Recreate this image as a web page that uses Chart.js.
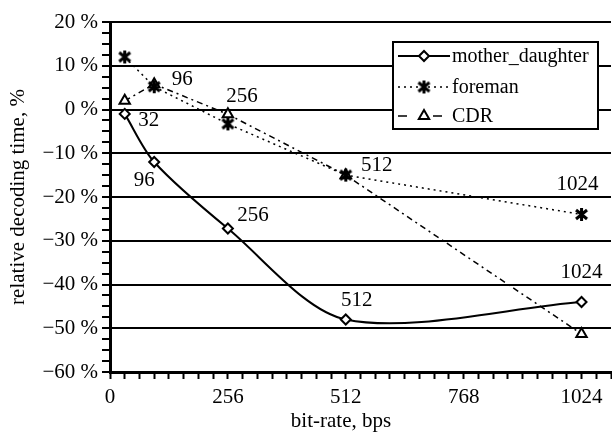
<!DOCTYPE html>
<html>
<head>
<meta charset="utf-8">
<script src="https://cdn.jsdelivr.net/npm/chart.js@4.4.0/dist/chart.umd.min.js"></script>
<style>
  html, body { margin: 0; padding: 0; background: #fff; }
  #wrap { width: 612px; height: 435px; }
</style>
</head>
<body>
<div id="wrap"><canvas id="graphique"></canvas></div>
<script>
// valeurs
const bitRates = [32, 96, 256, 512, 1024]
const motherDaughter = [-1, -12, -27.2, -48, -44]
const foreman = [12, 5.2, -3.3, -15, -24]
const cdr = [2, 5.8, -1.1, -15, -51.3]
const seriesNames = ["mother_daughter", "foreman", "CDR"]
const xTickLabels = [0, 256, 512, 768, 1024]
const yTickLabels = [20, 10, 0, -10, -20, -30, -40, -50, -60]

const police = "'Liberation Serif', 'Times New Roman', serif"

function points(values) {
    return bitRates.map((b, i) => ({ x: b, y: values[i] }))
}

function formatPct(v) {
    return (v < 0 ? "\u2212" + Math.abs(v) : v) + " %"
}

// marqueur étoile (X + trait vertical)
function creerEtoile() {
    const c = document.createElement("canvas")
    c.width = 15
    c.height = 15
    const g = c.getContext("2d")
    g.strokeStyle = "#000"
    g.lineWidth = 3
    g.beginPath()
    g.moveTo(7.5, 1); g.lineTo(7.5, 14)
    g.moveTo(2, 3); g.lineTo(13, 12)
    g.moveTo(13, 3); g.lineTo(2, 12)
    g.stroke()
    return c
}
const etoile = creerEtoile()

// étiquettes des points (série, index, décalage en px)
const etiquettes = [
    { serie: 0, i: 0, dx: 24, dy: 7 },
    { serie: 0, i: 1, dx: -10, dy: 18 },
    { serie: 0, i: 2, dx: 25, dy: -13 },
    { serie: 0, i: 3, dx: 11, dy: -19 },
    { serie: 0, i: 4, dx: 0, dy: -30 },
    { serie: 1, i: 1, dx: 28, dy: -7 },
    { serie: 2, i: 2, dx: 14, dy: -18 },
    { serie: 1, i: 3, dx: 31, dy: -10 },
    { serie: 1, i: 4, dx: -4, dy: -30 },
]

const pluginTextes = {
    id: "textes",
    afterDatasetsDraw(chart) {
        const ctx = chart.ctx
        const xs = chart.scales.x
        const ys = chart.scales.y
        const series = [motherDaughter, foreman, cdr]
        ctx.save()
        ctx.fillStyle = "#000"
        ctx.font = "21px " + police
        ctx.textAlign = "center"
        ctx.textBaseline = "middle"
        for (const e of etiquettes) {
            const px = xs.getPixelForValue(bitRates[e.i])
            const py = ys.getPixelForValue(series[e.serie][e.i])
            ctx.fillText(String(bitRates[e.i]), px + e.dx, py + e.dy)
        }

        // titres des axes
        ctx.fillText("bit-rate, bps", 341, 421)
        ctx.translate(18, (chart.chartArea.top + chart.chartArea.bottom) / 2)
        ctx.rotate(-Math.PI / 2)
        ctx.fillText("relative decoding time, %", 0, 0)
        ctx.restore()

        // légende
        ctx.save()
        ctx.fillStyle = "#fff"
        ctx.fillRect(393, 42, 205, 87)
        ctx.strokeStyle = "#000"
        ctx.lineWidth = 2
        ctx.strokeRect(393, 42, 205, 87)
        const lignes = [56, 87, 116]
        const ds = chart.data.datasets
        for (let k = 0; k < 3; k++) {
            const y = lignes[k]
            ctx.strokeStyle = "#000"
            ctx.lineWidth = ds[k].borderWidth
            ctx.setLineDash(k === 0 ? [] : [2, 4])
            ctx.beginPath()
            if (k === 2) {
                ctx.setLineDash([])
                ctx.moveTo(398, y); ctx.lineTo(407, y)
                ctx.moveTo(433, y); ctx.lineTo(442, y)
            } else {
                ctx.moveTo(398, y); ctx.lineTo(450, y)
            }
            ctx.stroke()
            ctx.setLineDash([])
            ctx.fillStyle = "#fff"
            ctx.lineWidth = ds[k].pointBorderWidth
            Chart.helpers.drawPoint(ctx, {
                pointStyle: ds[k].pointStyle,
                radius: ds[k].pointRadius,
                borderWidth: ds[k].pointBorderWidth,
                rotation: 0
            }, 424, y)
            ctx.fillStyle = "#000"
            ctx.font = "20px " + police
            ctx.textAlign = "left"
            ctx.textBaseline = "middle"
            ctx.fillText(seriesNames[k], 452, y + 1)
        }
        ctx.restore()
    }
}

const config = {
    type: "line",
    data: {
        datasets: [
            {
                label: seriesNames[0],
                data: points(motherDaughter),
                borderColor: "#000",
                borderWidth: 2,
                tension: 0.3,
                pointStyle: "rectRot",
                pointRadius: 5,
                pointBorderWidth: 2,
                pointBackgroundColor: "#fff",
                pointBorderColor: "#000",
            },
            {
                label: seriesNames[1],
                data: points(foreman),
                borderColor: "#000",
                borderWidth: 1.5,
                borderDash: [2, 4],
                tension: 0,
                pointStyle: etoile,
                pointRadius: 6,
                pointBorderWidth: 2,
                pointBackgroundColor: "#fff",
                pointBorderColor: "#000",
            },
            {
                label: seriesNames[2],
                data: points(cdr),
                borderColor: "#000",
                borderWidth: 1.5,
                borderDash: [6, 4, 2, 4],
                tension: 0,
                pointStyle: "triangle",
                pointRadius: 6,
                pointBorderWidth: 2,
                pointBackgroundColor: "#fff",
                pointBorderColor: "#000",
            },
        ]
    },
    options: {
        responsive: true,
        maintainAspectRatio: false,
        animation: false,
        layout: { autoPadding: false, padding: { top: 22, right: 1, left: 0, bottom: 0 } },
        plugins: {
            legend: { display: false },
            tooltip: { enabled: false },
        },
        scales: {
            x: {
                type: "linear",
                min: 0,
                max: 1088,
                afterFit: (s) => { s.height = 63; s.paddingRight = 0; s.paddingLeft = 0 },
                ticks: {
                    stepSize: 32,
                    autoSkip: false,
                    maxRotation: 0,
                    padding: 6,
                    color: "#000",
                    font: { family: police, size: 21 },
                    callback: (v) => xTickLabels.includes(v) ? String(v) : "",
                },
                grid: {
                    drawOnChartArea: false,
                    drawTicks: true,
                    tickLength: 7,
                    tickWidth: 2,
                    tickColor: "#000",
                },
                border: { color: "#000", width: 3 },
            },
            y: {
                min: -60,
                max: 20,
                afterFit: (s) => { s.width = 110 },
                ticks: {
                    stepSize: 2.5,
                    autoSkip: false,
                    maxTicksLimit: 100,
                    padding: 4,
                    color: "#000",
                    font: { family: police, size: 21 },
                    callback: (v) => yTickLabels.includes(v) ? formatPct(v) : "",
                },
                grid: {
                    color: (c) => (c.tick && yTickLabels.includes(c.tick.value)) ? "#000" : "rgba(0,0,0,0)",
                    lineWidth: 2,
                    tickLength: 8,
                    tickWidth: 2,
                    tickColor: "#000",
                },
                border: { color: "#000", width: 3 },
            },
        },
    },
    plugins: [pluginTextes],
}

const graphique = new Chart(document.querySelector("#graphique"), config)
</script>
</body>
</html>
